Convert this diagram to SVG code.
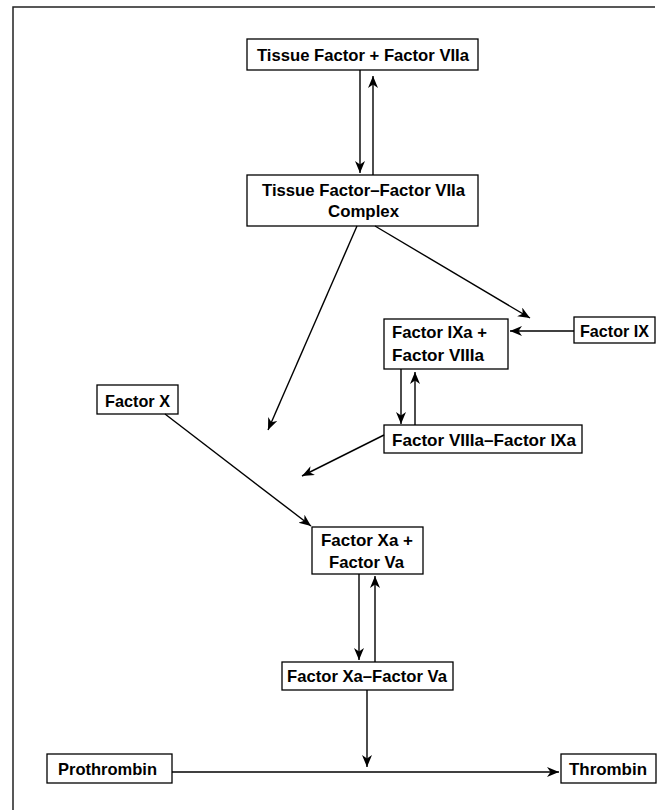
<svg xmlns="http://www.w3.org/2000/svg" width="661" height="810" viewBox="0 0 661 810">
<style>
.box{fill:#fff;stroke:#000;stroke-width:1.3}
.t{font-family:"Liberation Sans",Arial,sans-serif;font-weight:bold;font-size:17px;fill:#000}
.c{text-anchor:middle}
.ln{stroke:#000;stroke-width:1.4;fill:none;marker-end:url(#ah)}
.frame{stroke:#222;stroke-width:1.5;fill:none}
</style>
<defs>
<marker id="ah" markerUnits="userSpaceOnUse" markerWidth="14" markerHeight="12" refX="12" refY="5" orient="auto">
<path d="M0,0 L12,5 L0,10 L3.5,5 z" fill="#000"/>
</marker>
</defs>
<path class="frame" d="M13,810 L13,7 L655,7"/>
<g id="n1"><rect class="box" x="247" y="39" width="231" height="31"/><text class="t c" x="363" y="61" textLength="212" lengthAdjust="spacingAndGlyphs">Tissue Factor + Factor VIIa</text></g>
<g id="n2"><rect class="box" x="247" y="175" width="231" height="51"/><text class="t c" x="363.5" y="196" textLength="203" lengthAdjust="spacingAndGlyphs">Tissue Factor–Factor VIIa</text><text class="t c" x="363.5" y="217" textLength="71" lengthAdjust="spacingAndGlyphs">Complex</text></g>
<g id="n3"><rect class="box" x="384" y="319" width="124" height="50"/><text class="t" x="392" y="338" textLength="95" lengthAdjust="spacingAndGlyphs">Factor IXa +</text><text class="t" x="392" y="361" textLength="92" lengthAdjust="spacingAndGlyphs">Factor VIIIa</text></g>
<g id="n4"><rect class="box" x="574" y="317" width="81" height="26"/><text class="t" x="580" y="337" textLength="69" lengthAdjust="spacingAndGlyphs">Factor IX</text></g>
<g id="n5"><rect class="box" x="384" y="425" width="198" height="28"/><text class="t" x="392" y="446" textLength="184" lengthAdjust="spacingAndGlyphs">Factor VIIIa–Factor IXa</text></g>
<g id="n6"><rect class="box" x="97" y="385" width="81" height="29"/><text class="t" x="105" y="407" textLength="65" lengthAdjust="spacingAndGlyphs">Factor X</text></g>
<g id="n7"><rect class="box" x="312" y="527" width="111" height="47"/><text class="t c" x="367" y="546" textLength="92" lengthAdjust="spacingAndGlyphs">Factor Xa +</text><text class="t c" x="366.5" y="568" textLength="75" lengthAdjust="spacingAndGlyphs">Factor Va</text></g>
<g id="n8"><rect class="box" x="282" y="662" width="171" height="28"/><text class="t" x="287" y="682" textLength="160" lengthAdjust="spacingAndGlyphs">Factor Xa–Factor Va</text></g>
<g id="n9"><rect class="box" x="47" y="754" width="125" height="29"/><text class="t" x="58" y="775" textLength="99" lengthAdjust="spacingAndGlyphs">Prothrombin</text></g>
<g id="n10"><rect class="box" x="561" y="754" width="95" height="29"/><text class="t" x="569" y="775" textLength="78" lengthAdjust="spacingAndGlyphs">Thrombin</text></g>
<g id="connectors">
<line class="ln" x1="360" y1="70" x2="360" y2="173"/>
<line class="ln" x1="373" y1="175" x2="373" y2="76"/>
<line class="ln" x1="375" y1="226" x2="530" y2="318"/>
<line class="ln" x1="357" y1="226" x2="268" y2="430"/>
<line class="ln" x1="574" y1="331" x2="510" y2="331"/>
<line class="ln" x1="401" y1="369" x2="401" y2="424"/>
<line class="ln" x1="415" y1="425" x2="415" y2="372"/>
<line class="ln" x1="384" y1="435" x2="302" y2="476"/>
<line class="ln" x1="165" y1="414" x2="311" y2="526"/>
<line class="ln" x1="359" y1="574" x2="359" y2="660"/>
<line class="ln" x1="375" y1="662" x2="375" y2="576"/>
<line class="ln" x1="367" y1="690" x2="367" y2="767"/>
<line class="ln" x1="172" y1="772" x2="559" y2="772"/>
</g>
</svg>
